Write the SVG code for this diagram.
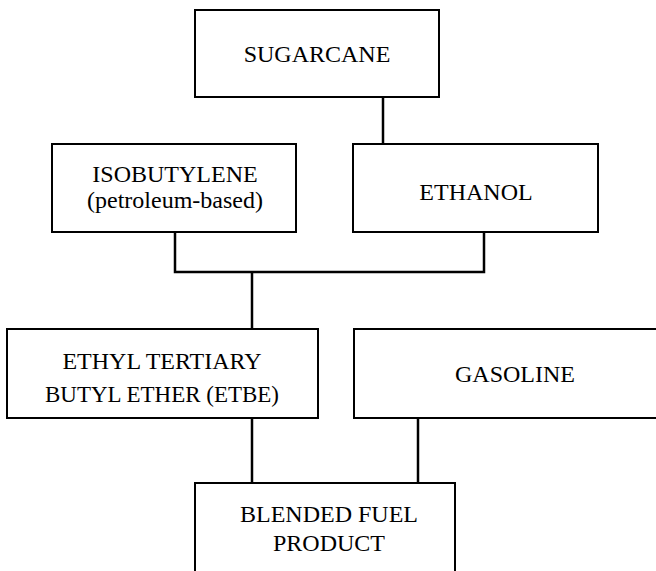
<svg xmlns="http://www.w3.org/2000/svg" width="656" height="571" viewBox="0 0 656 571">
<style>
.box{fill:#fff;stroke:#000;stroke-width:2}
.t{font-family:'Liberation Serif','Times New Roman','DejaVu Serif',serif;font-size:24px;fill:#000;text-anchor:middle}
.c{fill:none;stroke:#000;stroke-width:2.5}
</style>
<rect width="656" height="571" fill="#fff"/>
<g id="connectors">
<line class="c" x1="383" y1="97" x2="383" y2="144"/>
<polyline class="c" points="175,232 175,272 484,272 484,232"/>
<line class="c" x1="252" y1="272" x2="252" y2="329"/>
<line class="c" x1="252" y1="418" x2="252" y2="483"/>
<line class="c" x1="418" y1="418" x2="418" y2="483"/>
</g>
<g id="sugarcane">
<rect class="box" x="195" y="10" width="244" height="87"/>
<text class="t" x="317" y="62">SUGARCANE</text>
</g>
<g id="isobutylene">
<rect class="box" x="52" y="144" width="244" height="88"/>
<text class="t" x="175" y="182">ISOBUTYLENE</text>
<text class="t" x="175" y="208">(petroleum-based)</text>
</g>
<g id="ethanol">
<rect class="box" x="353" y="144" width="245" height="88"/>
<text class="t" x="476" y="200">ETHANOL</text>
</g>
<g id="etbe">
<rect class="box" x="7" y="329" width="311" height="89"/>
<text class="t" x="162" y="369">ETHYL TERTIARY</text>
<text class="t" x="162" y="402" textLength="234" lengthAdjust="spacingAndGlyphs">BUTYL ETHER (ETBE)</text>
</g>
<g id="gasoline">
<rect class="box" x="354" y="329" width="330" height="89"/>
<text class="t" x="515" y="382">GASOLINE</text>
</g>
<g id="blended">
<rect class="box" x="195" y="483" width="260" height="100"/>
<text class="t" x="329" y="522">BLENDED FUEL</text>
<text class="t" x="329" y="551">PRODUCT</text>
</g>
</svg>
